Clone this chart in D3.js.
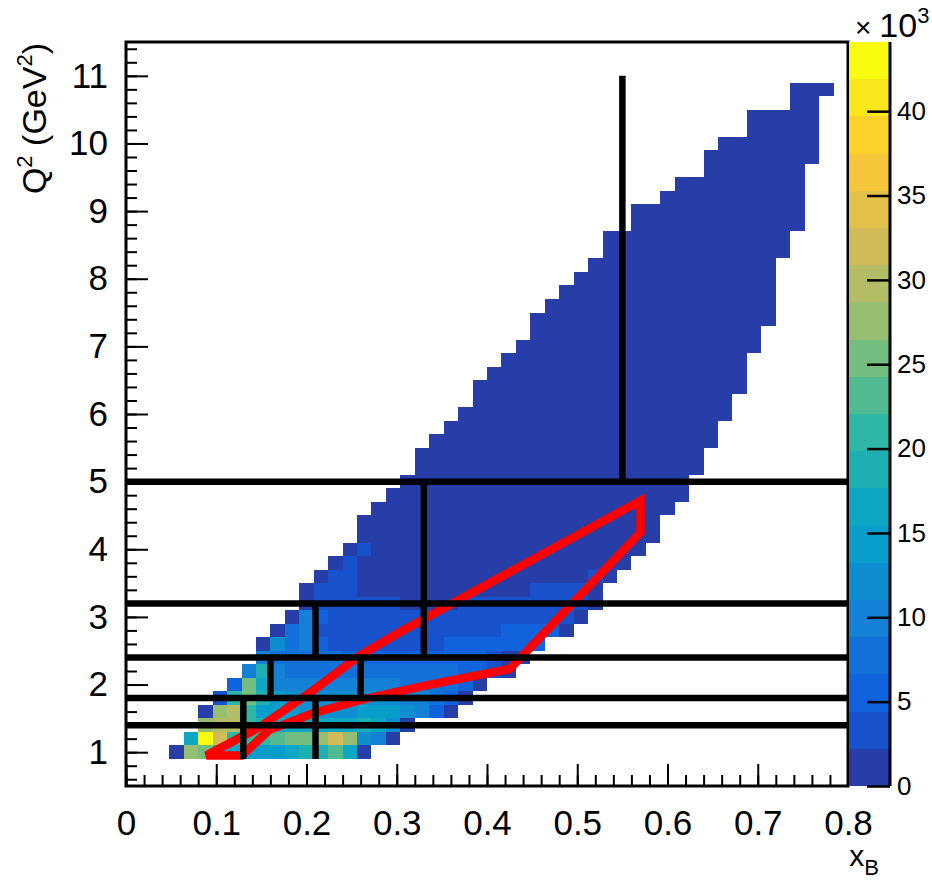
<!DOCTYPE html>
<html>
<head>
<meta charset="utf-8">
<script src="https://cdn.jsdelivr.net/npm/d3@7"></script>
<style>
  html, body { margin: 0; padding: 0; background: #fff; }
  text { font-family: "Liberation Sans", Arial, Helvetica, sans-serif; }
</style>
</head>
<body>
<div id="chart"></div>
<script>
// axis ticks
const xTicks = [0, 0.1, 0.2, 0.3, 0.4, 0.5, 0.6, 0.7, 0.8];
const yTicks = [1, 2, 3, 4, 5, 6, 7, 8, 9, 10, 11];
const zTicks = [0, 5, 10, 15, 20, 25, 30, 35, 40];
const zMax = 44.1;          // colour scale top, x10^3
const binWidthX = 0.016;    // x_B bin width
const binHeightQ2 = 0.2;    // Q^2 bin height

// low Q^2 rows: lower edge, first x bin, counts per bin (x10^3)
const lowRowQ2 = [0.9, 1.1, 1.3, 1.5, 1.7, 1.9, 2.1, 2.3, 2.5, 2.7, 2.9, 3.1];
const lowRowFirstBin = [3, 4, 5, 5, 6, 7, 8, 9, 9, 10, 11, 12];
const lowRowCounts = [
  [1, 28, 26, 20, 17, 15, 14, 15, 17, 18, 19, 23, 16, 1],
  [17, 43, 32, 21, 22, 22, 23, 25, 26, 28, 31, 28, 13, 10, 1],
  [28, 30, 29, 22, 18, 17, 17, 16, 16, 17, 17, 18, 16, 12, 1],
  [1, 28, 30, 21, 15, 14, 14, 13, 13, 13, 13, 15, 15, 15, 12, 11, 5, 1],
  [3, 20, 25, 18, 14, 13, 13, 12, 12, 12, 13, 13, 12, 11, 10, 8, 5, 1],
  [5, 26, 17, 10, 10, 9, 9, 9, 9, 9, 9, 9, 8, 8, 8, 7, 5, 1],
  [10, 19, 9, 8, 8, 8, 8, 8, 8, 8, 8, 7, 7, 7, 7, 6, 5, 3, 1],
  [9, 8, 7, 7, 7, 7, 6, 6, 6, 6, 6, 6, 6, 5, 5, 5, 4, 2, 1],
  [1, 13, 7, 9, 5, 4, 3, 3, 3, 3, 3, 3, 3, 5, 5, 5, 5, 6, 6, 5],
  [1, 7, 9, 4, 3, 3, 3, 3, 3, 3, 3, 3, 3, 3, 3, 3, 5, 5, 5, 5, 1],
  [1, 9, 5, 3, 3, 3, 3, 3, 3, 3, 3, 3, 3, 3, 3, 3, 3, 3, 3, 3, 1],
  [1, 4, 3, 3, 3, 3, 3, 1, 1, 1, 1, 3, 3, 3, 3, 3, 3, 3, 3, 3, 1]
];

// higher rows as runs: [Q^2 lower edge, first bin, last bin, count x10^3]
const upperRuns = [
  [3.3, 12, 12, 1], [3.3, 13, 15, 3.3], [3.3, 16, 27, 1], [3.3, 28, 31, 3.3], [3.3, 32, 32, 1],
  [3.5, 13, 13, 1], [3.5, 14, 15, 3.3], [3.5, 16, 31, 1], [3.5, 32, 32, 3.3], [3.5, 33, 33, 1],
  [3.7, 14, 14, 1], [3.7, 15, 15, 3.3], [3.7, 16, 34, 1],
  [3.9, 15, 15, 1], [3.9, 16, 16, 3.3], [3.9, 17, 35, 1],
  [4.1, 16, 36, 1], [4.3, 16, 36, 1], [4.5, 17, 37, 1], [4.7, 18, 38, 1], [4.9, 19, 38, 1],
  [5.1, 20, 39, 1], [5.3, 20, 39, 1], [5.5, 21, 40, 1], [5.7, 22, 40, 1], [5.9, 23, 41, 1],
  [6.1, 24, 41, 1], [6.3, 24, 42, 1], [6.5, 25, 42, 1], [6.7, 26, 42, 1], [6.9, 27, 43, 1],
  [7.1, 28, 43, 1], [7.3, 28, 44, 1], [7.5, 29, 44, 1], [7.7, 30, 44, 1], [7.9, 31, 44, 1],
  [8.1, 32, 44, 1], [8.3, 33, 45, 1], [8.5, 33, 45, 1], [8.7, 35, 46, 1], [8.9, 35, 46, 1],
  [9.1, 37, 46, 1], [9.3, 38, 46, 1], [9.5, 40, 46, 1], [9.7, 40, 47, 1], [9.9, 41, 47, 1],
  [10.1, 43, 47, 1], [10.3, 43, 47, 1], [10.5, 46, 47, 1], [10.7, 46, 48, 1]
];

// analysis bin boundaries
const hLines = [1.4, 1.8, 2.4, 3.2, 5.0];
const vLines = [ // [x_B, Q2 from, Q2 to]
  [0.13, 0.9, 1.8], [0.21, 0.9, 1.8], [0.16, 1.8, 2.4], [0.26, 1.8, 2.4],
  [0.21, 2.4, 3.2], [0.33, 2.4, 5.0], [0.55, 5.0, 11.0]
];

// red acceptance contour
const redCut = [
  [0.089, 0.95], [0.128, 0.95], [0.159, 1.33], [0.208, 1.58], [0.259, 1.77],
  [0.33, 1.98], [0.425, 2.23], [0.57, 4.25], [0.57, 4.72], [0.30, 2.75],
  [0.259, 2.43], [0.208, 1.92], [0.148, 1.37]
];

// ROOT kBird palette
const birdStops = [0, 0.125, 0.25, 0.375, 0.5, 0.625, 0.75, 0.875, 1];
const birdR = [0.2082, 0.0592, 0.0780, 0.0232, 0.1802, 0.5301, 0.8186, 0.9956, 0.9764];
const birdG = [0.1664, 0.3599, 0.5041, 0.6419, 0.7178, 0.7492, 0.7328, 0.7862, 0.9832];
const birdB = [0.5293, 0.8684, 0.8385, 0.7914, 0.6425, 0.4662, 0.3499, 0.1968, 0.0539];
const nBands = 20;

const width = 932, height = 885;
const frame = { left: 126, right: 848, top: 42, bottom: 786 };
const font = "Liberation Sans, Arial, sans-serif";

const svg = d3.select("#chart").append("svg")
  .attr("width", width)
  .attr("height", height);

const x = d3.scaleLinear().domain([0, 0.8]).range([frame.left, frame.right]);
const y = d3.scaleLinear().domain([0.5, 11.5]).range([frame.bottom, frame.top]);
const z = d3.scaleLinear().domain([0, zMax]).range([frame.bottom, frame.top]);

const palette = d3.scaleLinear()
  .domain(birdStops)
  .range(birdStops.map((s, i) => d3.rgb(birdR[i] * 255, birdG[i] * 255, birdB[i] * 255)))
  .interpolate(d3.interpolateRgb);

function bandColor(i) {
  const idx = Math.floor((i + 0.99) * 255 / nBands);
  return palette(idx / 254);
}
function countColor(c) {
  return bandColor(Math.min(nBands - 1, Math.floor(c / zMax * nBands)));
}

// cells
const cells = [];
lowRowQ2.forEach((q, r) => {
  lowRowCounts[r].forEach((c, k) => cells.push({ q, bin: lowRowFirstBin[r] + k, c }));
});
upperRuns.forEach(([q, b0, b1, c]) => {
  for (let b = b0; b <= b1; b++) cells.push({ q, bin: b, c });
});

svg.append("g").attr("class", "cells")
  .attr("shape-rendering", "crispEdges")
  .selectAll("rect")
  .data(cells)
  .join("rect")
  .attr("x", d => x(d.bin * binWidthX))
  .attr("width", d => x((d.bin + 1) * binWidthX) - x(d.bin * binWidthX))
  .attr("y", d => y(d.q + binHeightQ2))
  .attr("height", d => y(d.q) - y(d.q + binHeightQ2))
  .attr("fill", d => countColor(d.c));

// red contour
svg.append("path")
  .attr("d", d3.line().x(d => x(d[0])).y(d => y(d[1]))(redCut) + "Z")
  .attr("fill", "none")
  .attr("stroke", "#ff0000")
  .attr("stroke-width", 8.5)
  .attr("stroke-linejoin", "miter");

// black bin lines
const lines = svg.append("g").attr("stroke", "#000").attr("stroke-width", 6.5);
lines.selectAll("line.h")
  .data(hLines)
  .join("line")
  .attr("class", "h")
  .attr("x1", x(0)).attr("x2", x(0.8))
  .attr("y1", d => y(d)).attr("y2", d => y(d));
lines.selectAll("line.v")
  .data(vLines)
  .join("line")
  .attr("class", "v")
  .attr("x1", d => x(d[0])).attr("x2", d => x(d[0]))
  .attr("y1", d => y(d[1])).attr("y2", d => y(d[2]));

// axes
const fmt = d3.format("~g");
const xMinor = svg.append("g")
  .attr("transform", `translate(0,${frame.bottom})`)
  .call(d3.axisBottom(x).tickValues(x.ticks(40)).tickSizeInner(-11).tickSizeOuter(0).tickFormat(""));
const xAxis = svg.append("g")
  .attr("transform", `translate(0,${frame.bottom})`)
  .call(d3.axisBottom(x).tickValues(xTicks).tickSizeInner(-22).tickSizeOuter(0).tickPadding(24).tickFormat(fmt));
const yMinor = svg.append("g")
  .attr("transform", `translate(${frame.left},0)`)
  .call(d3.axisLeft(y).tickValues(y.ticks(55)).tickSizeInner(-11).tickSizeOuter(0).tickFormat(""));
const yAxis = svg.append("g")
  .attr("transform", `translate(${frame.left},0)`)
  .call(d3.axisLeft(y).tickValues(yTicks).tickSizeInner(-22).tickSizeOuter(0).tickPadding(18).tickFormat(fmt));

[xMinor, xAxis, yMinor, yAxis].forEach(g => {
  g.select(".domain").remove();
  g.selectAll(".tick line").attr("stroke", "#000").attr("stroke-width", 2);
  g.selectAll(".tick text").attr("fill", "#000").attr("font-size", 35).attr("font-family", font);
});

// frame
svg.append("rect")
  .attr("x", frame.left).attr("y", frame.top)
  .attr("width", frame.right - frame.left).attr("height", frame.bottom - frame.top)
  .attr("fill", "none").attr("stroke", "#000").attr("stroke-width", 3);

// colour bar
const barX0 = 849, barX1 = 890;
svg.append("g").attr("shape-rendering", "crispEdges")
  .selectAll("rect")
  .data(d3.range(nBands))
  .join("rect")
  .attr("x", barX0).attr("width", barX1 - barX0)
  .attr("y", i => z((i + 1) * zMax / nBands))
  .attr("height", i => z(i * zMax / nBands) - z((i + 1) * zMax / nBands))
  .attr("fill", i => bandColor(i));

const zAxis = svg.append("g")
  .attr("transform", `translate(${barX1},0)`)
  .call(d3.axisRight(z).tickValues(zTicks).tickSizeInner(-23).tickSizeOuter(0).tickPadding(7).tickFormat(fmt));
zAxis.select(".domain").remove();
zAxis.selectAll(".tick line").attr("stroke", "#000").attr("stroke-width", 2.5);
zAxis.selectAll(".tick text").attr("fill", "#000").attr("font-size", 26).attr("font-family", font);
svg.append("line")
  .attr("x1", barX1).attr("x2", barX1)
  .attr("y1", frame.top).attr("y2", frame.bottom)
  .attr("stroke", "#000").attr("stroke-width", 3);

// exponent label
const expo = svg.append("text").attr("x", 855).attr("y", 37).attr("fill", "#000");
expo.append("tspan").attr("font-size", 28).text("×");
expo.append("tspan").attr("dx", 8).attr("font-size", 34).text("10");
expo.append("tspan").attr("dy", -14).attr("font-size", 22).text("3");

// axis titles
const yTitle = svg.append("text")
  .attr("transform", "translate(46,43) rotate(-90)")
  .attr("text-anchor", "end")
  .attr("font-size", 34)
  .attr("fill", "#000");
yTitle.append("tspan").text("Q");
yTitle.append("tspan").attr("dy", -14).attr("font-size", 22).text("2");
yTitle.append("tspan").attr("dy", 14).text(" (GeV");
yTitle.append("tspan").attr("dy", -14).attr("font-size", 22).text("2");
yTitle.append("tspan").attr("dy", 14).text(")");

const xTitle = svg.append("text")
  .attr("x", 879).attr("y", 866)
  .attr("text-anchor", "end")
  .attr("font-size", 30)
  .attr("fill", "#000");
xTitle.append("tspan").text("x");
xTitle.append("tspan").attr("dy", 9).attr("font-size", 22).text("B");
</script>
</body>
</html>
